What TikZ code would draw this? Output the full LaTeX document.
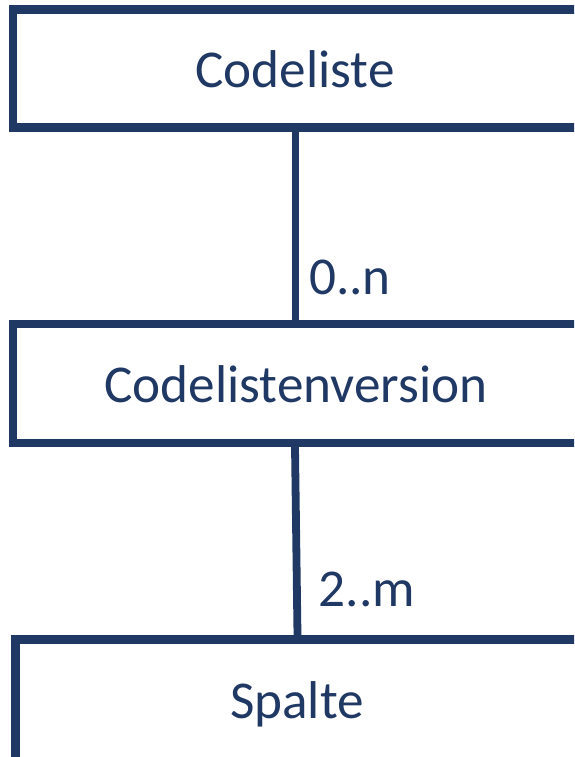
\documentclass[tikz,border=0pt]{standalone}
\usepackage{fontspec}
\setmainfont{Carlito}
\definecolor{navy}{HTML}{1F3864}
\begin{document}
\begin{tikzpicture}[x=1pt,y=-1pt,
  boxline/.style={draw=navy,line width=8.5pt},
  lbl/.style={text=navy,font=\fontsize{53.2}{60}\selectfont,inner sep=0pt,anchor=base},
  mult/.style={text=navy,font=\fontsize{53.2}{60}\selectfont,inner sep=0pt,anchor=base west}]
\useasboundingbox (0,0) rectangle (574,757);
\clip (0,0) rectangle (574,757);
% boxes
\draw[boxline] (13,9.5) coordinate (b1nw) rectangle (600,127.5) coordinate (b1se);
\draw[boxline] (13,324) coordinate (b2nw) rectangle (600,443) coordinate (b2se);
\draw[boxline] (15.5,639.5) coordinate (b3nw) rectangle (600,800) coordinate (b3se);
% anchor points of connectors
\coordinate (c1top) at (295.5,131.5);
\coordinate (c1bot) at (295.5,320);
\coordinate (c2top) at (295,447);
\coordinate (c2bot) at (297.5,635.5);
\draw[draw=navy,line width=7.8pt] (c1top) -- (c1bot);
\draw[draw=navy,line width=7.8pt] (c2top) -- (c2bot);
% texts
\node[lbl] (codeliste) at (295,88) {Codeliste};
\node[lbl] (version) at (296,402) {Codelistenversion};
\node[lbl] (spalte) at (297,718) {Spalte};
\node[mult] (m1) at (309,294) {0..n};
\node[mult] (m2) at (318.5,606.5) {2..m};
\end{tikzpicture}
\end{document}
